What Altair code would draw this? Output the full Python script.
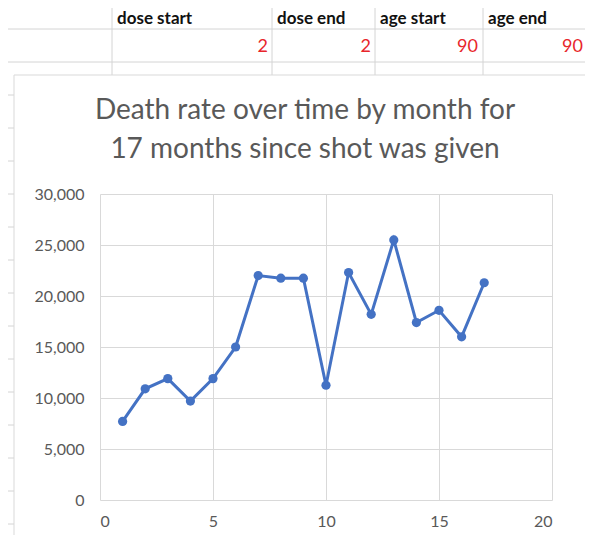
import altair as alt
import pandas as pd

# ---- data ----
months = list(range(1, 18))
deaths = [7700, 10900, 11900, 9700, 11900, 15000, 22000, 21750, 21750,
          11250, 22300, 18200, 25500, 17400, 18600, 16000, 21300]

headers = ["dose start", "dose end", "age start", "age end"]
cell_values = ["2", "2", "90", "90"]
title_lines = ["Death rate over time by month for",
               "17 months since shot was given"]
x_ticks = [0, 5, 10, 15, 20]
y_ticks = [0, 5000, 10000, 15000, 20000, 25000, 30000]

df = pd.DataFrame({"month": months, "deaths": deaths})

# ---- layout (page pixels) ----
PLOT_L, PLOT_T = 100, 194
W, H = 452, 306
FONT = "Lato"
GRAY = "#595959"


def px(x):
    return x - PLOT_L


def py(y):
    return y - PLOT_T


one = pd.DataFrame({"k": [0]})

layers = []

# spreadsheet grid lines
for yy in [29, 62]:
    layers.append(alt.Chart(one).mark_rule(color="#d4d4d4", strokeWidth=1).encode(
        x=alt.value(px(8)), x2=alt.value(px(600)), y=alt.value(py(yy))))
for xx in [112, 272, 375, 483]:
    layers.append(alt.Chart(one).mark_rule(color="#d4d4d4", strokeWidth=1).encode(
        x=alt.value(px(xx)), y=alt.value(py(0)), y2=alt.value(py(75))))
for yy in [95, 128, 161, 194, 227, 260, 293, 326, 359, 392, 425, 458, 491, 524]:
    layers.append(alt.Chart(one).mark_rule(color="#d4d4d4", strokeWidth=1).encode(
        x=alt.value(px(8)), x2=alt.value(px(14)), y=alt.value(py(yy))))

# header texts
header_x = [117, 277, 380, 488]
for h, xx in zip(headers, header_x):
    layers.append(alt.Chart(one).mark_text(
        text=h, font=FONT, fontSize=17, fontWeight="bold", color="#111111",
        align="left", baseline="alphabetic").encode(
        x=alt.value(px(xx)), y=alt.value(py(24))))

# red cell values
value_x = [268, 371, 478, 583]
for v, xx in zip(cell_values, value_x):
    layers.append(alt.Chart(one).mark_text(
        text=v, font=FONT, fontSize=18, color="#e8262b",
        align="right", baseline="alphabetic").encode(
        x=alt.value(px(xx)), y=alt.value(py(52))))

# chart area border
layers.append(alt.Chart(one).mark_rect(
    fillOpacity=0, stroke="#d9d9d9", strokeWidth=1).encode(
    x=alt.value(px(14)), x2=alt.value(px(610)),
    y=alt.value(py(75)), y2=alt.value(py(560))))

# title
for i, t in enumerate(title_lines):
    layers.append(alt.Chart(one).mark_text(
        text=t, font=FONT, fontSize=28, color=GRAY,
        align="center", baseline="alphabetic").encode(
        x=alt.value(px(305)), y=alt.value(py(119 + 39 * i))))

xs = alt.X("month:Q", scale=alt.Scale(domain=[0, 20], nice=False),
           axis=alt.Axis(values=x_ticks, title=None, labelPadding=13))
ys = alt.Y("deaths:Q", scale=alt.Scale(domain=[0, 30000], nice=False),
           axis=alt.Axis(values=y_ticks, title=None, format=",.0f", labelPadding=16))

line = alt.Chart(df).mark_line(color="#4472C4", strokeWidth=3).encode(x=xs, y=ys)
pts = alt.Chart(df).mark_point(filled=True, size=85, color="#4472C4", opacity=1).encode(x=xs, y=ys)

chart = alt.layer(*layers, line, pts).properties(
    width=W, height=H,
    padding={"left": PLOT_L - 8, "top": PLOT_T - 8,
             "right": 577 - (PLOT_L - 8) - W, "bottom": 527 - (PLOT_T - 8) - H},
    autosize=alt.AutoSizeParams(type="none"),
    background="white",
).configure_view(stroke=None).configure_axis(
    domain=False, ticks=False, grid=True, gridColor="#d9d9d9", gridWidth=1,
    labelFont=FONT, labelFontSize=16, labelColor=GRAY,
)

chart.save("out.html", embed_options={"renderer": "svg", "actions": False})
